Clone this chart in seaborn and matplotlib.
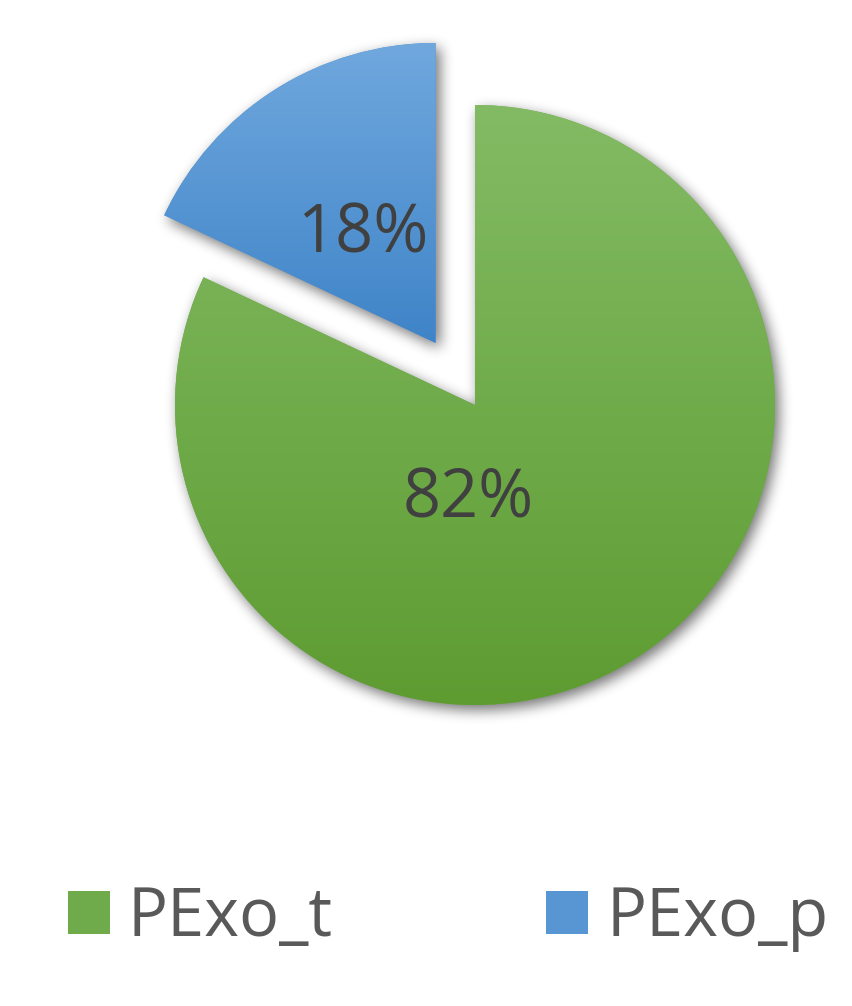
import numpy as np
import matplotlib
matplotlib.use("Agg")
import matplotlib.pyplot as plt
import seaborn as sns
from matplotlib.colors import LinearSegmentedColormap

sns.set_theme(style="white")
plt.rcParams['font.family'] = ['Open Sans', 'DejaVu Sans']

# data
labels = ["PExo_t", "PExo_p"]
shares = [82, 18]
explode = [0, 0.245]
top_colors = ["#83bb64", "#70a8de"]
mid_colors = ["#70ab4b", "#5796d3"]
bottom_colors = ["#5e9c32", "#3f84c8"]

W, H = 852, 1006
R = 300
fig = plt.figure(figsize=(W / 100, H / 100), dpi=100)
ax = fig.add_axes([0, 0, 1, 1])

wedges, texts, autotexts = ax.pie(
    shares, radius=R, center=(475, H - 405), startangle=90, counterclock=False,
    explode=[e * R for e in explode], colors=mid_colors, autopct='%d%%',
    wedgeprops=dict(linewidth=0, zorder=2),
    textprops=dict(fontsize=48, color="#404040"))

# blurred drop shadow behind the slices
def box_blur(a, r, axis):
    k = 2 * r + 1
    pad = [(0, 0), (0, 0)]
    pad[axis] = (r + 1, r)
    c = np.cumsum(np.pad(a, pad), axis=axis)
    if axis == 0:
        return (c[k:] - c[:-k]) / k
    return (c[:, k:] - c[:, :-k]) / k

xs, ys = np.meshgrid(np.arange(W) + 0.5, H - (np.arange(H) + 0.5))
pts = np.column_stack([xs.ravel(), ys.ravel()])
mask = np.zeros((H, W))
for w in wedges:
    path = w.get_patch_transform().transform_path(w.get_path())
    mask = np.maximum(mask, path.contains_points(pts).reshape(H, W).astype(float))
dx, dy = 4, 5
shadow = np.zeros_like(mask)
shadow[dy:, dx:] = mask[:-dy, :-dx]
for _ in range(3):
    shadow = box_blur(shadow, 6, 0)
    shadow = box_blur(shadow, 6, 1)
rgba = np.zeros((H, W, 4))
rgba[..., 3] = 0.55 * shadow
ax.imshow(rgba, extent=(0, W, 0, H), origin='upper', zorder=1, interpolation='bilinear')

# vertical gradient fill on each slice
grad = np.linspace(0, 1, 256).reshape(-1, 1)
for w, c0, c1 in zip(wedges, top_colors, bottom_colors):
    bb = w.get_patch_transform().transform_path(w.get_path()).get_extents()
    cmap = LinearSegmentedColormap.from_list("g", [c0, c1])
    im = ax.imshow(grad, extent=(bb.x0, bb.x1, bb.y0, bb.y1), origin='upper',
                   cmap=cmap, aspect='auto', zorder=3)
    im.set_clip_path(w)

label_pos = [(468, H - 517), (363, H - 252)]
for t, (x, y) in zip(autotexts, label_pos):
    t.set_position((x, y))
    t.set_va('baseline')
    t.set_zorder(5)

ax.set_xlim(0, W)
ax.set_ylim(0, H)
ax.set_aspect('equal')
ax.axis('off')

ax.legend(wedges, labels, loc='center', bbox_to_anchor=(448 / W, 1 - 918 / H),
          bbox_transform=fig.transFigure, ncol=2, frameon=False, fontsize=48,
          handlelength=0.63, handleheight=0.62, handletextpad=0.27,
          columnspacing=3.2, labelcolor="#595959")

fig.savefig("out.png", dpi=100, facecolor="white")
